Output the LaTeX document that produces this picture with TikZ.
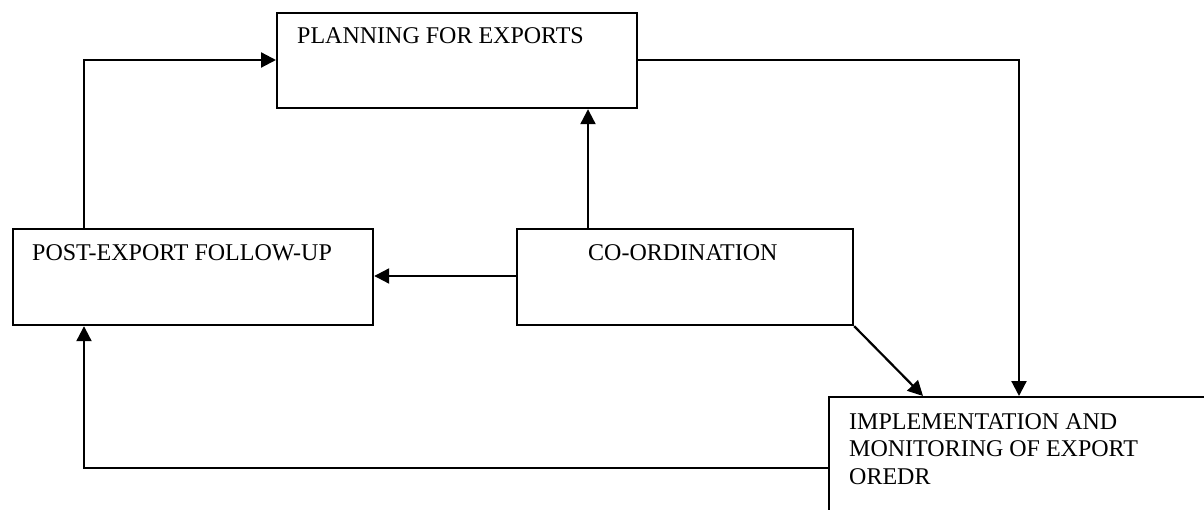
\documentclass[tikz,border=0pt]{standalone}
\usepackage{fontspec}
\setmainfont{Liberation Serif}
\usetikzlibrary{arrows.meta,calc}
\begin{document}
\begin{tikzpicture}[x=1pt,y=-1pt,
  box/.style={draw,line width=2.2pt,rectangle,inner sep=0pt,anchor=north west},
  lbl/.style={font=\fontsize{24}{27.5}\selectfont,inner sep=0pt,anchor=base west},
  flow/.style={line width=2.2pt,-{Triangle[length=15pt,width=15pt]}}]
\useasboundingbox (0,0) rectangle (1204,510);
\clip (0,0) rectangle (1204,510);

% boxes
\node[box,minimum width=360pt,minimum height=95pt] (plan) at (276,12) {};
\node[box,minimum width=360pt,minimum height=96pt] (post) at (12,228) {};
\node[box,minimum width=336pt,minimum height=96pt] (coord) at (516,228) {};
\node[box,minimum width=420pt,minimum height=200pt] (impl) at (828,396) {};

% labels
\node[lbl] (planT) at (297,44) {PLANNING FOR EXPORTS};
\node[lbl] (postT) at (32,261) {POST-EXPORT FOLLOW-UP};
\node[lbl] (coordT) at (588,261) {CO-ORDINATION};
\node[lbl] (implT1) at (849,429) {IMPLEMENTATION AND};
\node[lbl] (implT2) at (849,456) {MONITORING OF EXPORT};
\node[lbl] (implT3) at (849,484) {OREDR};

% connectors
\coordinate (bend1) at (84,60);
\coordinate (bend2) at (1019,60);
\coordinate (bend3) at (84,468);
\coordinate (diagEnd) at (923,396);

\draw[flow] (post.north -| bend1) -- (bend1) -- (bend1 -| plan.west);
\draw[flow] (bend2 -| plan.east) -- (bend2) -- (bend2 |- impl.north);
\draw[flow] (coord.north -| 588,0) -- (plan.south -| 588,0);
\draw[flow] (coord.west |- 0,276) -- (post.east |- 0,276);
\draw[flow] (coord.south east) -- (diagEnd);
\draw[flow] (impl.west |- bend3) -- (bend3) -- (bend3 |- post.south);
\end{tikzpicture}
\end{document}
